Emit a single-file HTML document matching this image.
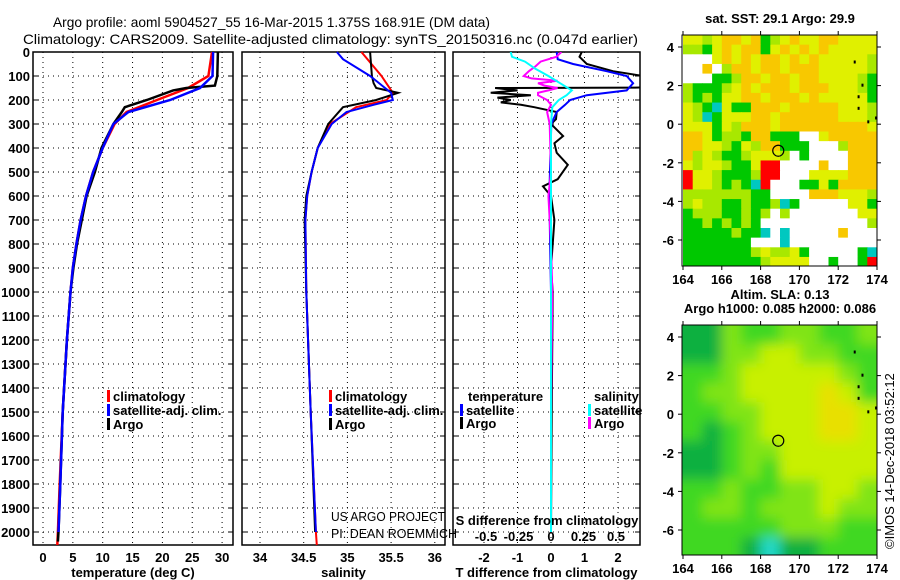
<!DOCTYPE html>
<html><head><meta charset="utf-8"><style>
body{margin:0;background:#fff;}
svg{display:block;font-family:"Liberation Sans",sans-serif;}
.t{font-weight:bold;font-size:13px;}
</style></head><body>
<svg id="c" width="900" height="580" viewBox="0 0 900 580"></svg>
<script>
// ---------- data ----------
const depthTicks=[0,100,200,300,400,500,600,700,800,900,1000,1100,1200,1300,1400,1500,1600,1700,1800,1900,2000];
const tempTicks=[0,5,10,15,20,25,30];
const salTicks=[34,34.5,35,35.5,36];
const tdTicks=[-2,-1,0,1,2];
const sdTicks=[-0.5,-0.25,0,0.25,0.5];
const lonTicks=[164,166,168,170,172,174];
const latTicks=[4,2,0,-2,-4,-6];

const tArgoD=[0,100,140,150,160,200,230,250,300,400,500,600,700,800,900,1000,1200,1500,1800,2000,2040];
const tArgoV=[29.3,29.2,28.8,24,21.8,17.4,13.7,13.2,11.8,9.8,8.7,7.3,6.5,5.7,5.1,4.6,4.0,3.3,2.9,2.6,2.5];
const tClimD=[0,100,150,200,250,300,400,500,600,700,800,900,1000,1200,1500,1800,2000,2054];
const tClimV=[28.3,27.7,24.3,19.1,14.0,12.0,10.0,8.4,7.2,6.3,5.6,5.0,4.6,4.0,3.3,2.8,2.5,2.4];
const tSatD=[0,100,150,200,250,300,400,500,600,700,800,900,1000,1200,1500,1800,2000];
const tSatV=[28.5,28.4,26.3,21.3,14.3,11.8,10.0,8.4,7.2,6.3,5.6,5.0,4.6,4.0,3.3,2.9,2.6];

const sArgoD=[0,100,130,150,170,200,230,300,400,500,600,700,1000,1500,2000];
const sArgoV=[35.26,35.28,35.3,35.33,35.58,35.33,34.95,34.78,34.66,34.59,34.53,34.51,34.53,34.58,34.63];
const sClimD=[0,100,170,200,230,300,400,500,600,700,1000,1500,2000,2054];
const sClimV=[35.16,35.39,35.52,35.45,35.1,34.8,34.66,34.59,34.54,34.52,34.53,34.58,34.64,34.65];
const sSatD=[0,30,100,170,200,220,250,300,400,500,600,700,1000,1500,2000];
const sSatV=[34.88,34.95,35.26,35.5,35.52,35.3,34.99,34.82,34.66,34.59,34.54,34.52,34.53,34.58,34.64];

const dTArgoD=[0,20,50,80,110,130,148,150,160,170,180,190,200,210,220,230,250,280,300,350,380,420,470,530,560,600,700,800,900,1000,1500,2000];
const dTArgoV=[0.92,0.85,1.07,1.85,3.2,3.2,3.2,-1.67,-1.0,-1.8,-0.6,-1.6,-1.2,-1.5,-0.9,-0.5,0.17,0.15,0,0.36,0.1,0.17,0.5,0.2,-0.24,0,0.1,0.05,0,0.05,0.02,0];
const dTSatD=[0,30,50,80,100,130,160,180,200,220,250,300,600,1000,2000];
const dTSatV=[0.17,0.2,0.66,1.66,2.26,2.45,2.26,1.07,0.57,0.42,0.17,0.01,-0.05,0,0];
const dSArgoD=[0,20,40,60,80,100,110,120,130,140,150,160,170,180,200,220,250,300,500,600,800,1000,1500,2000];
const dSArgoV=[0.08,0.04,-0.08,-0.12,-0.17,-0.21,-0.15,0.05,-0.1,-0.05,0.05,-0.02,-0.1,-0.1,-0.03,0,-0.03,-0.01,0,-0.02,0,0.01,0,0];
const dSSatD=[0,20,40,70,100,130,160,180,200,230,300,600,1000,2000];
const dSSatV=[-0.31,-0.3,-0.2,-0.12,-0.02,0.07,0.16,0.12,0.06,0.01,0,0,0,0];

const sstGrid=[
"yylyooyoglyoyyooyyyy","llgyoyoogyoyoyoyyyyy","wwwyoyoyooyoyoyyyyyl","wwowlooyooyoooyyyyyl",
"wwwgglooyooyooyyyylg","lggglyoyoooyoooyyylg","lglgyyooyoooyoyyyyyg","ylgcyggoooyoooooyyyl",
"ylcgyyyooyooooooyyyl","yyygyloooyoooooooooy","ooygllgoogggwwyooooo","ooyylgyloogggwwwlooo",
"olylgglyyylwgwwwwooo","ylyylggyrrwwwwowwooo","ryylggglrrwwwyyyyooo","ryylglgcrwwwggygoooo",
"lllllllggwwwwoooyyyl","lyllgglgglcgwwwwwyyg","glllgglglwlwwwwwwwyy","gglglglgwwwwwwwwwwwl",
"ggggglggcwcwwwwwowww","gggggggwwwcwwwwwwwww","ggggggglyllygwwwwwgc","gggggggglyyyywwgwwgr"];
const slaGrid=["GGlggllggl","GGllyyllgg","gglyyyyylg","gllyyyyoyg","ggllyyyooy","gGglyyyooy",
"GGgllyyyyy","GGglgyyyyy","gglggllyyl","gllglllyll","ggggglllgg","gggGcGGggg"];
const floatLon=168.91, floatLat=-1.375;

// ---------- helpers ----------
const svg=document.getElementById('c');
const NS='http://www.w3.org/2000/svg';
function mk(tag,at,parent){const e=document.createElementNS(NS,tag);for(const k in at)e.setAttribute(k,at[k]);(parent||svg).appendChild(e);return e;}
function txt(x,y,s,at,parent){const e=mk('text',Object.assign({x:x,y:y},at||{}),parent);e.textContent=s;return e;}
const top0=52,bot=545;
const yD=d=>top0+d*0.24;
const panels=[
 {x0:33,x1:233,f:v=>43+v*5.97,ticks:tempTicks,lab:'temperature (deg C)',name:'temperature-panel'},
 {x0:242,x1:445,f:v=>260+(v-34)*87.4,ticks:salTicks,lab:'salinity',name:'salinity-panel'},
 {x0:453,x1:640,f:v=>551+v*33.5,ticks:tdTicks,lab:'T difference from climatology',name:'difference-panel'}];
const fS=v=>551+v*130;

const defs=mk('defs',{});
const flt=mk('filter',{id:'blur',x:'-10%',y:'-10%',width:'120%',height:'120%'},defs);
mk('feGaussianBlur',{stdDeviation:6},flt);

// titles
let e=txt(53,27,'Argo profile: aoml 5904527_55 16-Mar-2015 1.375S 168.91E (DM data)',{'font-size':14,textLength:437,lengthAdjust:'spacingAndGlyphs'});

e=txt(23,44,'Climatology: CARS2009. Satellite-adjusted climatology: synTS_20150316.nc (0.047d earlier)',{'font-size':14,textLength:615,lengthAdjust:'spacingAndGlyphs'});


panels.forEach((p,pi)=>{
  const g=mk('g',{});
  
  depthTicks.forEach(d=>{mk('line',{x1:p.x0,x2:p.x1,y1:yD(d),y2:yD(d),stroke:'#000','stroke-dasharray':'1 4'},g);
    mk('line',{x1:p.x0,x2:p.x0+5,y1:yD(d),y2:yD(d),stroke:'#000'},g);mk('line',{x1:p.x1-5,x2:p.x1,y1:yD(d),y2:yD(d),stroke:'#000'},g);});
  p.ticks.forEach(v=>{const x=p.f(v);mk('line',{x1:x,x2:x,y1:top0,y2:bot,stroke:'#000','stroke-dasharray':'1 4'},g);
    const t=txt(x,562,String(v),{'class':'t','text-anchor':'middle'},g);});
  mk('rect',{x:p.x0,y:top0,width:p.x1-p.x0,height:bot-top0,fill:'none',stroke:'#000','stroke-width':1.5},g);
  const xl=txt((p.x0+p.x1)/2,577,p.lab,{'class':'t','text-anchor':'middle'},g);
  
});
depthTicks.forEach(d=>{const t=txt(30,yD(d)+5,String(d),{'class':'t','text-anchor':'end'});
  });

function line(D,V,f,col,w,name){const pts=D.map((d,i)=>f(V[i]).toFixed(1)+','+yD(d).toFixed(1)).join(' ');
  const l=mk('polyline',{points:pts,fill:'none',stroke:col,'stroke-width':w});
  return l;}
const cp=mk('clipPath',{id:'cp3'},defs);mk('rect',{x:453,y:top0,width:187,height:bot-top0},cp);

line(tClimD,tClimV,panels[0].f,'#f00',2.5,'temp-climatology-line');
line(tArgoD,tArgoV,panels[0].f,'#000',2.5,'temp-argo-line');
line(tSatD,tSatV,panels[0].f,'#00f',2.5,'temp-satellite-line');
line(sClimD,sClimV,panels[1].f,'#f00',2,'sal-climatology-line');
line(sArgoD,sArgoV,panels[1].f,'#000',2,'sal-argo-line');
line(sSatD,sSatV,panels[1].f,'#00f',2,'sal-satellite-line');
line(dTArgoD,dTArgoV,panels[2].f,'#000',2,'tdiff-argo-line').setAttribute('clip-path','url(#cp3)');
line(dTSatD,dTSatV,panels[2].f,'#00f',2,'tdiff-satellite-line').setAttribute('clip-path','url(#cp3)');
line(dSArgoD,dSArgoV,fS,'#f0f',2,'sdiff-argo-line').setAttribute('clip-path','url(#cp3)');
line(dSSatD,dSSatV,fS,'#0ff',2,'sdiff-satellite-line').setAttribute('clip-path','url(#cp3)');

function leg(x,y,col,s,name){const g=mk('g',{});
  mk('rect',{x:x,y:y-11,width:3,height:12,fill:col},g);txt(x+6,y,s,{'class':'t','fill':'#000'},g);}
[['climatology','#f00'],['satellite-adj. clim.','#00f'],['Argo','#000']].forEach((a,i)=>leg(107,401+i*14,a[1],a[0],'temp-legend-entry'));
[['climatology','#f00'],['satellite-adj. clim.','#00f'],['Argo','#000']].forEach((a,i)=>leg(329,401+i*14,a[1],a[0],'sal-legend-entry'));
txt(468,401,'temperature',{'class':'t'});
txt(594,401,'salinity',{'class':'t'});
leg(460,415,'#00f','satellite','tdiff-legend-satellite');leg(460,428,'#000','Argo','tdiff-legend-argo');
leg(588,415,'#0ff','satellite','sdiff-legend-satellite');leg(588,428,'#f0f','Argo','sdiff-legend-argo');
e=txt(547,525,'S difference from climatology',{'class':'t','text-anchor':'middle'});
sdTicks.forEach(v=>{const t=txt(fS(v),541,v===0?'0':String(v),{'class':'t','text-anchor':'middle'});
  });
e=txt(331,521,'US ARGO PROJECT',{'font-size':13,textLength:114,lengthAdjust:'spacingAndGlyphs'});
e=txt(331,538,'PI: DEAN ROEMMICH',{'font-size':13,textLength:126,lengthAdjust:'spacingAndGlyphs'});

// maps
const sstCol={o:'#f8c800',y:'#e0f000',l:'#a8e800',g:'#00c800',w:'#ffffff',r:'#ff0000',c:'#00c8c0'};
const slaCol={G:'#10b040',g:'#40d820',l:'#80e418',y:'#c8f000',o:'#e8e000',c:'#20d8c8'};
function map(y0,y1,grid,cols,name,title1,title2,smooth){
  const x0=682,x1=877;
  const lonX=l=>683+(l-164)*19.4;
  const latY=la=>(y0+12)+(4-la)*19.3;
  const g=mk('g',{});
  const clipId='clip'+name;const cpm=mk('clipPath',{id:clipId},defs);mk('rect',{x:x0,y:y0,width:x1-x0,height:y1-y0},cpm);
  const cg=mk('g',{'clip-path':'url(#'+clipId+')'},g);
  const cells=mk('g',smooth?{filter:'url(#blur)'}:{},cg);
  const nR=grid.length,nC=grid[0].length;
  const latTop=4+12/19.3, lonW=10/nC, latH=12/nR;
  const pad=smooth?15:0;
  grid.forEach((row,r)=>{for(let c=0;c<nC;c++){
    let xa=lonX(164+c*lonW),xb=lonX(164+(c+1)*lonW),ya=latY(latTop-r*latH),yb=latY(latTop-(r+1)*latH);
    if(c===0)xa-=pad; if(c===nC-1)xb+=pad; if(r===0)ya-=pad; if(r===nR-1)yb+=pad;
    mk('rect',{x:xa,y:ya,width:xb-xa+0.5,height:yb-ya+0.5,fill:cols[row[c]]},cells);}});
  mk('rect',{x:x0,y:y0,width:x1-x0,height:y1-y0,fill:'none',stroke:'#000'},g);
  latTicks.forEach(la=>{const y=latY(la);mk('line',{x1:x0-4,x2:x0,y1:y,y2:y,stroke:'#000'},g);mk('line',{x1:x1,x2:x1+4,y1:y,y2:y,stroke:'#000'},g);
    const t=txt(674,y+5,String(la),{'class':'t','text-anchor':'end'},g);});
  lonTicks.forEach(lo=>{const x=lonX(lo);mk('line',{x1:x,x2:x,y1:y1,y2:y1+4,stroke:'#000'},g);mk('line',{x1:x,x2:x,y1:y0-4,y2:y0,stroke:'#000'},g);
    const t=txt(x,y1+18,String(lo),{'class':'t','text-anchor':'middle'},g);});
  const c=mk('circle',{cx:lonX(floatLon),cy:latY(floatLat),r:5.5,fill:'none',stroke:'#000','stroke-width':1.2},g);
  
  [[172.8,3.3],[173.2,2.1],[173.0,1.5],[173.0,0.9],[173.5,0.2],[173.9,0.4]].forEach(p=>mk('rect',{x:lonX(p[0]),y:latY(p[1]),width:2,height:3,fill:'#000'},g));
  const t1=txt(780,title2?y0-26:y0-12,title1,{'class':'t','text-anchor':'middle','font-size':12});
  if(title2){const t2=txt(780,y0-12,title2,{'class':'t','text-anchor':'middle','font-size':12});}
}
map(35,266,sstGrid,sstCol,'sst-map','sat. SST: 29.1 Argo: 29.9',null,false);
map(325,555,slaGrid,slaCol,'sla-map','Altim. SLA: 0.13','Argo h1000: 0.085 h2000: 0.086',true);
e=txt(0,0,'©IMOS 14-Dec-2018 03:52:12',{'font-size':13,transform:'translate(894,549) rotate(-90)'});

</script>
</body></html>
